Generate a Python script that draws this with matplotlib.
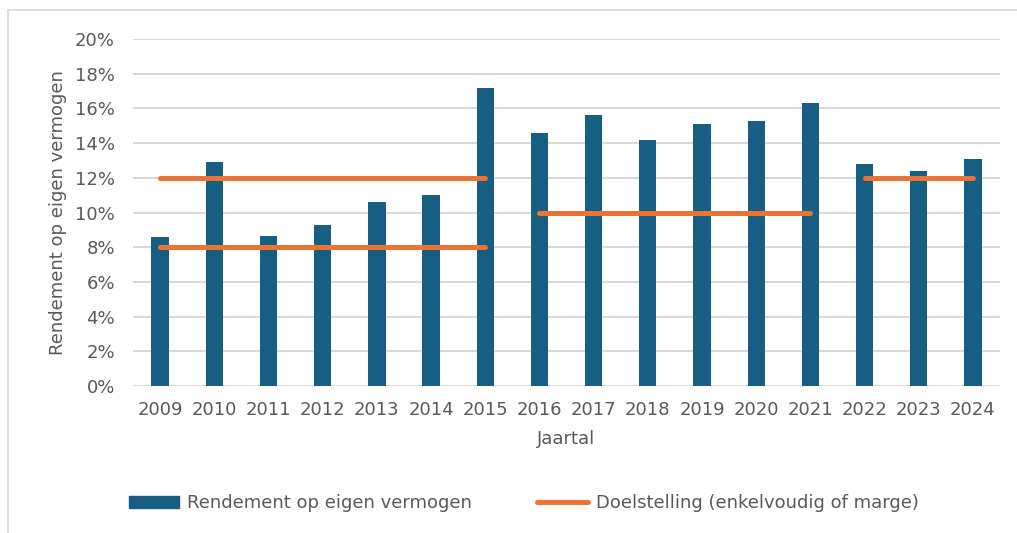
import matplotlib.pyplot as plt
import matplotlib.lines as mlines
import matplotlib.patches as mpatches
import numpy as np

jaren = ['2009', '2010', '2011', '2012', '2013', '2014', '2015', '2016',
         '2017', '2018', '2019', '2020', '2021', '2022', '2023', '2024']
rendement = [8.6, 12.9, 8.65, 9.3, 10.6, 11.0, 17.2, 14.6,
             15.6, 14.2, 15.1, 15.3, 16.3, 12.8, 12.4, 13.1]

# doelstelling: (eerste jaar, laatste jaar, waarde)
doel_segmenten = [('2009', '2015', 12.0), ('2009', '2015', 8.0),
                  ('2016', '2021', 10.0), ('2022', '2024', 12.0)]

blauw = '#165f82'
oranje = '#eb7433'
grijs = '#595959'
fs = 13

plt.rcParams['font.family'] = ['DejaVu Sans']

fig = plt.figure(figsize=(10.17, 5.33), dpi=100)
ax = fig.add_axes([0.1308, 0.2758, 0.8525, 0.651])

x = np.arange(len(jaren))
ax.bar(x, rendement, width=0.32, color=blauw, zorder=3)

for start, eind, waarde in doel_segmenten:
    i0 = jaren.index(start)
    i1 = jaren.index(eind)
    ax.plot([i0, i1], [waarde, waarde], color=oranje, lw=3.6,
            solid_capstyle='round', zorder=4)

ax.set_xlim(-0.5, len(jaren) - 0.5)
ax.set_ylim(0, 20)
ax.set_yticks(np.arange(0, 21, 2))
ax.set_yticklabels([f'{v}%' for v in range(0, 21, 2)])
ax.set_xticks(x)
ax.set_xticklabels(jaren)
ax.tick_params(length=0, labelsize=fs, colors=grijs)
ax.tick_params(axis='y', pad=13)
ax.tick_params(axis='x', pad=11)
ax.yaxis.grid(True, color='#d9d9d9', lw=1.5, zorder=0)
for s in ax.spines.values():
    s.set_visible(False)

ax.set_xlabel('Jaartal', fontsize=fs, color=grijs, labelpad=8)
ax.set_ylabel('Rendement op eigen vermogen', fontsize=fs, color=grijs, labelpad=6)

# kader rond de grafiek
fig.add_artist(mlines.Line2D([8/1017, 8/1017], [0, 1 - 10/533],
                             color='#d9d9d9', lw=1.2))
fig.add_artist(mlines.Line2D([8/1017, 1], [1 - 10/533, 1 - 10/533],
                             color='#d9d9d9', lw=1.2))

h_bar = mpatches.Patch(color=blauw, label='Rendement op eigen vermogen')
h_lijn = mlines.Line2D([], [], color=oranje, lw=3.6, solid_capstyle='round',
                       label='Doelstelling (enkelvoudig of marge)')
fig.legend(handles=[h_bar, h_lijn], loc='center', bbox_to_anchor=(0.515, 1 - 503/533),
           ncol=2, frameon=False, fontsize=fs, labelcolor=grijs,
           handlelength=2.8, handleheight=0.65, handletextpad=0.45, columnspacing=3.6)

fig.savefig('out.png', dpi=100)
